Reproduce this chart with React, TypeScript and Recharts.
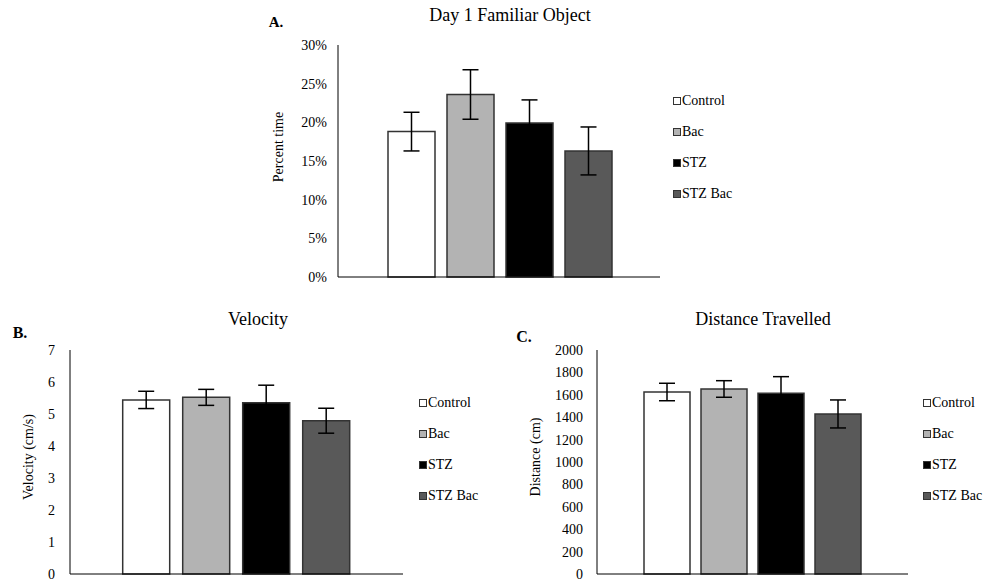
import { BarChart, Bar, XAxis, YAxis, ErrorBar, Legend } from 'recharts'

const groups = ['Control', 'Bac', 'STZ', 'STZ Bac']

// Day 1 familiar object, percent time
const percentTime = [18.8, 23.6, 19.9, 16.3]
const percentTimeErr = [2.5, 3.2, 3.0, 3.1]
const percentTicks = [0, 5, 10, 15, 20, 25, 30]

// velocity, cm/s
const velocity = [5.44, 5.52, 5.35, 4.79]
const velocityErr = [0.27, 0.25, 0.55, 0.39]
const velocityTicks = [0, 1, 2, 3, 4, 5, 6, 7]

// distance travelled, cm
const distance = [1625, 1652, 1613, 1429]
const distanceErr = [78, 74, 149, 125]
const distanceTicks = [0, 200, 400, 600, 800, 1000, 1200, 1400, 1600, 1800, 2000]

const fills = ['#ffffff', '#b3b3b3', '#000000', '#595959']
const FONT = '"Liberation Serif", "Times New Roman", serif'

const makeRows = (values: number[], errors: number[]) => {
	const row: Record<string, number | string> = { name: '' }
	values.forEach((v, i) => {
		row['g' + i] = v
		row['g' + i + 'Err'] = errors[i]
	})
	return [row]
}

const LegendList = (props: any) => {
	const items = props.payload || []
	return (
		<div style={{ fontFamily: FONT, fontSize: 14, color: '#000' }}>
			{items.map((item: any) => {
				const idx = groups.indexOf(item.value)
				return (
					<div
						key={item.value}
						style={{ height: 31, display: 'flex', alignItems: 'center', whiteSpace: 'nowrap', fontFamily: FONT }}
					>
						<span
							style={{
								display: 'inline-block',
								width: 6,
								height: 6,
								border: '1px solid #333',
								background: fills[idx],
								marginRight: 1,
							}}
						/>
						<span style={{ fontFamily: FONT, fontSize: 14 }}>{item.value}</span>
					</div>
				)
			})}
		</div>
	)
}

type PanelProps = {
	left: number
	top: number
	width: number
	height: number
	margin: { top: number; right: number; bottom: number; left: number }
	yWidth: number
	tickMargin: number
	catGap: number
	barGap: number
	labelOffset: number
	labelDy: number
	ylabel: string
	legendLeft: number
	legendTop: number
	legendWidth: number
	values: number[]
	errors: number[]
	ticks: number[]
	fmt?: (v: number) => string
}

const Panel = (p: PanelProps) => {
	const data = makeRows(p.values, p.errors)
	return (
		<div style={{ position: 'absolute', left: p.left, top: p.top }}>
			<BarChart
				width={p.width}
				height={p.height}
				data={data}
				margin={p.margin}
				barCategoryGap={p.catGap}
				barGap={p.barGap}
			>
				<XAxis dataKey="name" tick={false} tickLine={false} height={1} axisLine={{ stroke: '#000', strokeWidth: 1 }} />
				<YAxis
					width={p.yWidth}
					domain={[p.ticks[0], p.ticks[p.ticks.length - 1]]}
					ticks={p.ticks}
					interval={0}
					tickLine={false}
					tickSize={0}
					tickMargin={p.tickMargin}
					tickFormatter={p.fmt}
					axisLine={{ stroke: '#000', strokeWidth: 1 }}
					tick={{ fontFamily: FONT, fontSize: 14, fill: '#000' }}
					label={{
						content: (lp: any) => {
							const vb = lp.viewBox
							const cx = vb.x + p.labelOffset
							const cy = vb.y + vb.height / 2 + p.labelDy
							return (
								<text
									transform={`translate(${cx},${cy}) rotate(-90)`}
									textAnchor="middle"
									dominantBaseline="central"
									style={{ fontFamily: FONT, fontSize: 14 }}
									fill="#000"
								>
									{p.ylabel}
								</text>
							)
						},
					}}
				/>
				<Legend
					layout="vertical"
					align="right"
					verticalAlign="top"
					itemSorter="dataKey"
					wrapperStyle={{ left: p.legendLeft, top: p.legendTop, width: p.legendWidth }}
					content={LegendList}
				/>
				{groups.map((g, i) => (
					<Bar
						key={g}
						dataKey={'g' + i}
						name={g}
						fill={fills[i]}
						stroke="#333"
						strokeWidth={1.5}
						isAnimationActive={false}
					>
						<ErrorBar dataKey={'g' + i + 'Err'} width={8} stroke="#000" strokeWidth={1.5} isAnimationActive={false} />
					</Bar>
				))}
			</BarChart>
		</div>
	)
}

const textAt = (x: number, y: number, size: number, bold = false): React.CSSProperties => ({
	position: 'absolute',
	left: x,
	top: y,
	transform: 'translate(-50%, -50%)',
	fontFamily: FONT,
	fontSize: size,
	fontWeight: bold ? 'bold' : 'normal',
	lineHeight: 1,
	whiteSpace: 'nowrap',
	color: '#000',
})

export default function App() {
	return (
		<div
			style={{
				position: 'absolute',
				left: 0,
				top: 0,
				width: 983,
				height: 580,
				background: '#fff',
				overflow: 'hidden',
			}}
		>
			<Panel
				left={250}
				top={30}
				width={510}
				height={258}
				margin={{ top: 15, right: 0, bottom: 10, left: 20 }}
				yWidth={68}
				tickMargin={11}
				catGap={50}
				barGap={12}
				labelOffset={8}
				labelDy={-14}
				ylabel="Percent time"
				legendLeft={423}
				legendTop={55.5}
				legendWidth={100}
				values={percentTime}
				errors={percentTimeErr}
				ticks={percentTicks}
				fmt={(v) => `${v}%`}
			/>
			<Panel
				left={0}
				top={330}
				width={503}
				height={255}
				margin={{ top: 20, right: 10, bottom: 10, left: 8 }}
				yWidth={62}
				tickMargin={15}
				catGap={52.7}
				barGap={13}
				labelOffset={20}
				labelDy={-5}
				ylabel="Velocity (cm/s)"
				legendLeft={419}
				legendTop={57.5}
				legendWidth={90}
				values={velocity}
				errors={velocityErr}
				ticks={velocityTicks}
			/>
			<Panel
				left={520}
				top={330}
				width={458}
				height={255}
				margin={{ top: 20, right: 0, bottom: 10, left: 5 }}
				yWidth={72}
				tickMargin={14}
				catGap={47}
				barGap={11}
				labelOffset={10}
				labelDy={-5}
				ylabel="Distance (cm)"
				legendLeft={403}
				legendTop={57.5}
				legendWidth={70}
				values={distance}
				errors={distanceErr}
				ticks={distanceTicks}
			/>
			<div style={textAt(510, 15, 18)}>Day 1 Familiar Object</div>
			<div style={textAt(276, 22, 15, true)}>A.</div>
			<div style={textAt(258, 319, 18)}>Velocity</div>
			<div style={textAt(20, 333, 16, true)}>B.</div>
			<div style={textAt(763, 319, 18)}>Distance Travelled</div>
			<div style={textAt(524, 337, 16, true)}>C.</div>
		</div>
	)
}
